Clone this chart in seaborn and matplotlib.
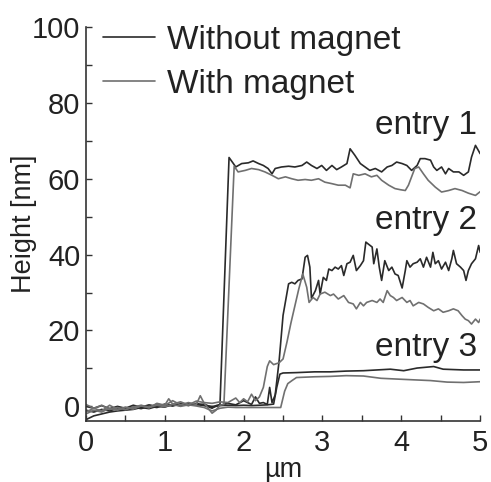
import numpy as np
import pandas as pd
import matplotlib
matplotlib.use("Agg")
import matplotlib.pyplot as plt
import seaborn as sns
from matplotlib.lines import Line2D
from matplotlib.ticker import MultipleLocator

# ---------------- data ----------------
# entry 1, without magnet (black)
e1_wo_x = [0.0, 0.1, 0.2, 0.3, 0.4, 0.5, 0.6, 0.7, 0.8, 0.9, 1.0, 1.1, 1.2, 1.3, 1.4, 1.5, 1.6, 1.65, 1.70,
           1.815, 1.87, 1.90, 1.975, 2.06, 2.12, 2.19, 2.25, 2.31, 2.36, 2.40, 2.48, 2.57, 2.65, 2.74, 2.80,
           2.86, 2.93, 2.99, 3.05, 3.12, 3.18, 3.24, 3.31, 3.35, 3.41, 3.48, 3.54, 3.60, 3.67, 3.75, 3.82,
           3.88, 3.94, 4.01, 4.07, 4.13, 4.20, 4.24, 4.30, 4.37, 4.41, 4.45, 4.51, 4.56, 4.60, 4.66, 4.73,
           4.79, 4.85, 4.89, 4.94, 5.0]
e1_wo_y = [-1.0, -1.5, -0.8, -1.2, -0.5, -0.8, -0.2, -0.6, 0.0, -0.3, 0.4, 0.1, 0.6, 0.2, 0.8, 0.3, -0.5, 0.2, 0.5,
           65.6, 64.0, 63.1, 64.0, 64.2, 64.7, 64.0, 63.5, 62.7, 61.3, 62.7, 63.1, 63.3, 63.1, 63.5, 64.4,
           63.5, 62.7, 63.5, 62.2, 63.5, 62.4, 63.1, 64.0, 67.9, 66.2, 64.0, 63.1, 62.2, 62.7, 61.8, 63.1,
           63.5, 64.4, 64.0, 63.5, 62.2, 63.5, 65.3, 65.3, 64.9, 63.1, 62.2, 63.1, 61.3, 62.7, 61.8, 61.8,
           60.9, 61.8, 65.7, 68.8, 66.6]

# entry 1, with magnet (grey)
e1_w_x = [0.0, 0.1, 0.2, 0.3, 0.4, 0.5, 0.6, 0.7, 0.8, 0.9, 1.0, 1.1, 1.2, 1.3, 1.4, 1.45, 1.5, 1.6, 1.65, 1.70,
          1.75, 1.88, 1.93, 2.02, 2.10, 2.19, 2.27, 2.36, 2.44, 2.53, 2.61, 2.69, 2.78, 2.86, 2.95, 3.03,
          3.12, 3.20, 3.29, 3.35, 3.39, 3.46, 3.54, 3.62, 3.69, 3.75, 3.84, 3.92, 3.99, 4.05, 4.09, 4.13,
          4.17, 4.22, 4.28, 4.34, 4.43, 4.51, 4.60, 4.68, 4.77, 4.85, 4.94, 5.0]
e1_w_y = [0.5, -0.5, 0.3, -0.8, -0.3, -0.9, -0.2, 0.3, -0.2, 0.6, 0.2, 1.5, 0.4, 1.0, 0.5, 2.8, 0.8, -1.8, -1.0, 0.3,
          0.5, 63.3, 61.8, 62.2, 62.7, 62.4, 61.8, 60.9, 60.0, 60.5, 60.0, 59.6, 59.8, 59.6, 60.0, 59.1,
          58.7, 58.3, 58.3, 57.6, 61.3, 60.9, 61.3, 60.5, 60.9, 59.6, 58.3, 57.4, 57.1, 56.9, 58.3, 60.5,
          62.7, 63.1, 61.3, 59.6, 57.8, 56.5, 56.9, 57.4, 56.9, 56.2, 55.6, 56.6]

# entry 2, without magnet (black)
e2_wo_x = [0.0, 0.1, 0.2, 0.3, 0.4, 0.5, 0.6, 0.7, 0.8, 0.9, 1.0, 1.1, 1.2, 1.3, 1.4, 1.5, 1.6, 1.7, 1.8, 1.9,
           2.0, 2.1, 2.15, 2.2, 2.25, 2.3, 2.33, 2.36, 2.40, 2.45, 2.50, 2.57, 2.61, 2.65, 2.69, 2.74, 2.78,
           2.81, 2.84, 2.86, 2.91, 2.95, 2.97, 3.01, 3.05, 3.08, 3.12, 3.16, 3.20, 3.24, 3.27, 3.31, 3.35,
           3.39, 3.43, 3.48, 3.52, 3.55, 3.58, 3.63, 3.65, 3.69, 3.72, 3.75, 3.79, 3.84, 3.88, 3.92, 3.96,
           4.01, 4.05, 4.07, 4.11, 4.15, 4.20, 4.24, 4.28, 4.32, 4.37, 4.40, 4.43, 4.47, 4.51, 4.56, 4.60,
           4.64, 4.66, 4.70, 4.75, 4.79, 4.82, 4.85, 4.89, 4.94, 4.98, 5.0]
e2_wo_y = [-3.5, -2.5, -2.0, -1.5, -1.2, -1.0, -0.8, -0.3, -0.6, 0.0, -0.2, 0.5, 0.2, 0.8, 0.4, 0.6, -0.3, 0.3, 0.8, 0.4,
           1.5, 0.5, 2.5, 0.8, 1.0, 0.5, 5.0, 1.0, 3.0, 12.0, 24.0, 32.3, 32.7, 32.3, 33.2, 33.6, 39.3,
           39.8, 36.7, 28.5, 30.5, 33.2, 29.6, 34.0, 33.2, 36.2, 35.8, 36.7, 36.2, 37.1, 34.5, 37.6, 38.0,
           39.8, 35.8, 37.1, 38.4, 43.3, 42.8, 42.0, 37.6, 41.5, 36.7, 33.2, 38.4, 35.8, 36.7, 34.9, 34.5,
           31.2, 35.8, 38.4, 36.7, 37.6, 38.0, 38.9, 36.7, 39.3, 36.7, 40.6, 37.6, 38.4, 36.2, 38.0, 35.8,
           38.9, 41.1, 37.6, 36.7, 35.8, 33.2, 35.8, 37.6, 38.9, 42.4, 40.6]

# entry 2, with magnet (grey)
e2_w_x = [0.0, 0.1, 0.2, 0.3, 0.4, 0.5, 0.6, 0.7, 0.8, 0.9, 1.0, 1.05, 1.1, 1.2, 1.3, 1.4, 1.5, 1.6, 1.7, 1.8,
          1.9, 1.95, 2.0, 2.05, 2.1, 2.15, 2.2, 2.25, 2.30, 2.33, 2.38, 2.45, 2.50, 2.55, 2.60, 2.65, 2.70,
          2.75, 2.80, 2.83, 2.88, 2.93, 2.97, 3.03, 3.10, 3.14, 3.20, 3.27, 3.33, 3.39, 3.43, 3.48, 3.52,
          3.56, 3.63, 3.69, 3.73, 3.77, 3.82, 3.86, 3.90, 3.94, 4.01, 4.07, 4.11, 4.15, 4.22, 4.28, 4.34,
          4.41, 4.47, 4.53, 4.60, 4.66, 4.72, 4.77, 4.81, 4.85, 4.89, 4.94, 4.98, 5.0]
e2_w_y = [-1.5, -0.5, -1.2, 0.3, -0.8, -0.2, -0.7, 0.2, -0.4, 0.8, 0.3, 2.0, 0.6, 1.2, 0.4, 1.4, 1.0, 0.8, 1.2, 1.0,
          2.2, 1.0, 2.0, 1.2, 3.2, 1.5, 2.5, 5.0, 10.5, 12.0, 11.0, 11.5, 12.5, 17.0, 22.0, 26.5, 31.0,
          34.9, 31.4, 27.4, 28.7, 27.9, 29.6, 30.1, 29.2, 29.6, 28.3, 29.2, 27.4, 27.0, 25.7, 27.4, 26.5,
          27.4, 27.9, 27.4, 28.3, 27.4, 30.5, 29.2, 28.7, 27.9, 28.7, 27.4, 27.9, 26.5, 27.4, 27.0, 26.1,
          25.2, 25.7, 24.8, 25.2, 25.7, 25.2, 23.9, 23.0, 22.6, 21.7, 23.0, 22.1, 23.0]

# entry 3, without magnet (black)
e3_wo_x = [0.0, 0.1, 0.2, 0.3, 0.4, 0.5, 0.6, 0.7, 0.8, 0.9, 1.0, 1.1, 1.2, 1.3, 1.4, 1.5, 1.6, 1.7, 1.8, 1.9,
           2.0, 2.1, 2.2, 2.3, 2.38, 2.42, 2.46, 2.50, 2.67, 2.90, 3.10, 3.30, 3.52, 3.69, 3.86, 4.03, 4.20,
           4.41, 4.53, 4.79, 5.0]
e3_wo_y = [0.0, -0.5, 0.2, -0.6, 0.0, -0.5, 0.3, -0.2, 0.4, 0.0, 0.6, 0.2, 0.8, 0.3, 0.5, 0.2, 0.0, 0.2, 0.3, 0.2,
           0.3, 0.2, 0.3, 0.4, 0.6, 5.0, 8.5, 8.8, 8.9, 9.1, 9.1, 9.3, 9.4, 9.6, 9.8, 9.4, 10.1, 10.5,
           9.8, 9.6, 9.6]

# entry 3, with magnet (grey)
e3_w_x = [0.0, 0.1, 0.2, 0.3, 0.4, 0.5, 0.6, 0.7, 0.8, 0.9, 1.0, 1.1, 1.2, 1.3, 1.4, 1.5, 1.6, 1.7, 1.8, 1.9,
          2.0, 2.1, 2.2, 2.3, 2.4, 2.47, 2.52, 2.56, 2.62, 2.67, 2.90, 3.10, 3.30, 3.52, 3.74, 3.94, 4.15,
          4.37, 4.58, 4.79, 5.0]
e3_w_y = [-2.0, -1.0, -1.5, -0.5, -1.0, -0.3, -0.6, 0.1, -0.3, 0.3, -0.1, 0.5, 0.0, 0.4, 0.1, -0.3, -1.2, -0.5, -0.2, -0.3,
          -0.3, -0.3, -0.3, -0.3, -0.3, -0.3, 4.0, 6.0, 6.9, 7.6, 7.8, 7.9, 8.1, 8.0, 7.4, 7.2, 7.0,
          6.8, 6.4, 6.3, 6.5]

conditions = ["Without magnet", "With magnet"]
entry_labels = ["entry 1", "entry 2", "entry 3"]
entry_label_y = [74.0, 49.0, 15.5]

series = [
    ("entry 1", "Without magnet", e1_wo_x, e1_wo_y),
    ("entry 1", "With magnet", e1_w_x, e1_w_y),
    ("entry 2", "Without magnet", e2_wo_x, e2_wo_y),
    ("entry 2", "With magnet", e2_w_x, e2_w_y),
    ("entry 3", "Without magnet", e3_wo_x, e3_wo_y),
    ("entry 3", "With magnet", e3_w_x, e3_w_y),
]

rows = []
for ent, cond, xs, ys in series:
    for i, (xv, yv) in enumerate(zip(xs, ys)):
        rows.append({"entry": ent, "condition": cond, "order": i, "x": xv, "height": yv,
                     "unit": ent + " " + cond})
df = pd.DataFrame(rows)

# ---------------- plot ----------------
sns.set_theme(style="ticks")
plt.rcParams["font.family"] = ["Liberation Sans", "DejaVu Sans"]

colors = {"Without magnet": "#2a2a2a", "With magnet": "#707070"}
txt = "#222222"

fig = plt.figure(figsize=(4.91, 4.82), dpi=100)
ax = fig.add_axes([0.175, 0.127, 0.803, 0.817])

sns.lineplot(data=df, x="x", y="height", hue="condition", units="unit", estimator=None,
             sort=False, palette=colors, hue_order=conditions, linewidth=1.2, ax=ax, legend=False)

ax.set_xlim(0, 5)
ax.set_ylim(-3.8, 100)
ax.xaxis.set_major_locator(MultipleLocator(1))
ax.xaxis.set_minor_locator(MultipleLocator(0.5))
ax.yaxis.set_major_locator(MultipleLocator(20))
ax.yaxis.set_minor_locator(MultipleLocator(10))
ax.tick_params(which="both", direction="in", length=4, width=1.0, color="#333333",
               labelsize=21, labelcolor=txt)
ax.tick_params(axis="y", pad=4)
ax.tick_params(axis="x", pad=6)
for s in ["top", "right"]:
    ax.spines[s].set_visible(False)
for s in ["left", "bottom"]:
    ax.spines[s].set_color("#333333")
    ax.spines[s].set_linewidth(1.2)

ax.set_xlabel("µm", fontsize=19.5, color=txt)
ax.set_ylabel("Height [nm]", fontsize=19.5, color=txt)
ax.yaxis.set_label_coords(-0.124, 0.5)
ax.xaxis.set_label_coords(0.5, -0.093)

for lab, yv in zip(entry_labels, entry_label_y):
    ax.text(4.96, yv, lab, ha="right", va="center", fontsize=24, color=txt)

handles = [Line2D([], [], color=colors[c], lw=1.2) for c in conditions]
leg = ax.legend(handles, conditions, loc="upper left", bbox_to_anchor=(0.043, 1.005),
                frameon=False, fontsize=24, handlelength=1.55, handletextpad=0.38,
                labelspacing=0.38, borderaxespad=0, borderpad=0)
for t in leg.get_texts():
    t.set_color(txt)

fig.savefig("out.png", dpi=100)
